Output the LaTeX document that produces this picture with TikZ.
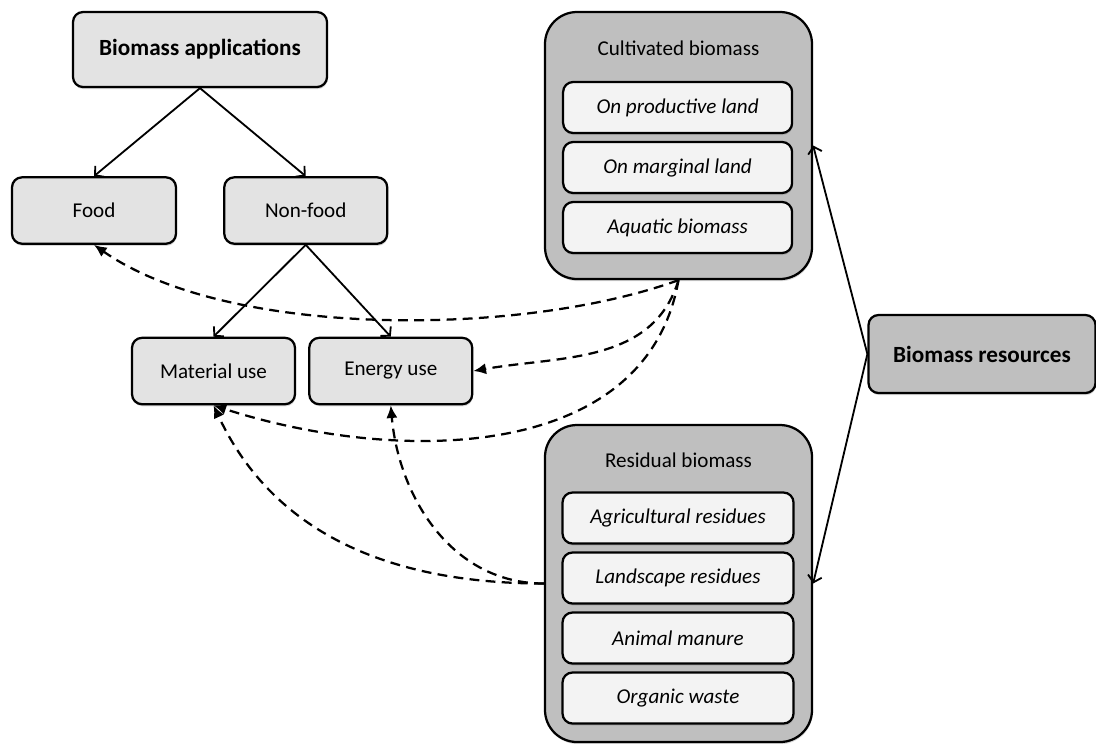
\documentclass[tikz,border=0pt]{standalone}
\usepackage{fontspec}
\setmainfont{Carlito}
\usetikzlibrary{positioning, arrows.meta, shadows}
\definecolor{boxgray}{HTML}{E3E3E3}
\definecolor{darkgray}{HTML}{BFBFBF}
\definecolor{itemgray}{HTML}{F3F3F3}
\tikzset{
    every node/.style={font=\fontsize{15}{18}\selectfont}, % common text size
    box/.style={draw, line width=1.6pt, rounded corners=0.25cm, fill=boxgray, minimum width=4.075cm, minimum height=1.66cm, drop shadow={opacity=0.3, shadow xshift=0.5pt, shadow yshift=-1.5pt}},
    group/.style={draw, line width=1.6pt, rounded corners=0.8cm, fill=darkgray, minimum width=6.675cm, drop shadow={opacity=0.3, shadow xshift=0.5pt, shadow yshift=-1.5pt}},
    item/.style={draw, line width=1.6pt, rounded corners=0.25cm, fill=itemgray, minimum width=5.725cm, minimum height=1.275cm, font=\fontsize{15}{18}\selectfont\itshape, drop shadow={opacity=0.3, shadow xshift=0.5pt, shadow yshift=-1.5pt}},
    link/.style={line width=1.3pt, -{Straight Barb[length=4.5pt, width=10pt]}},
    flow/.style={line width=1.6pt, dash pattern=on 7pt off 4.5pt, -{Latex[length=9pt, width=8pt]}},
    node distance=1.5cm, % spacing of the list items
}
\begin{document}
\begin{tikzpicture}
\useasboundingbox (0,0) rectangle (27.4,-18.575);
% applications side
\node[box, minimum width=6.35cm, minimum height=1.875cm, font=\fontsize{16.5}{19}\selectfont\bfseries] (apps) at (5,-1.2375) {Biomass applications};
\node[box, minimum width=4.1cm] (food) at (2.35,-5.2625) {Food};
\node[box, right=1.15cm of food] (nonfood) {Non-food};
\node[box] (material) at (5.3375,-9.275) {Material use};
\node[box, right=0.3cm of material] (energy) {Energy use};
% resources side
\node[group, minimum height=6.675cm] (cult) at (16.9625,-3.6375) {};
\node (culttitle) at (16.9625,-1.2) {Cultivated biomass};
\node[item] (prod) at (16.94,-2.6875) {On productive land};
\node[item, below of=prod] (marg) {On marginal land};
\node[item, below of=marg] (aqua) {Aquatic biomass};
\node[group, minimum height=7.925cm] (resid) at (16.9625,-14.5875) {};
\node (residtitle) at (16.9625,-11.5) {Residual biomass};
\node[item, minimum width=5.775cm] (agri) at (16.95,-12.95) {Agricultural residues};
\node[item, minimum width=5.775cm, below of=agri] (land) {Landscape residues};
\node[item, minimum width=5.775cm, below of=land] (manure) {Animal manure};
\node[item, minimum width=5.775cm, below of=manure] (waste) {Organic waste};
\node[box, fill=darkgray, minimum width=5.675cm, minimum height=1.95cm, font=\fontsize{16.5}{19}\selectfont\bfseries] (res) at (24.55,-8.85) {Biomass resources};
% solid arrows
\draw[link] (apps.south) -- (food.north);
\draw[link] (apps.south) -- (nonfood.north);
\draw[link] (nonfood.south) -- (material.north);
\draw[link] (nonfood.south) -- (energy.north);
\draw[link] (res.west) -- (cult.east);
\draw[link] (res.west) -- (resid.east);
% dashed arrows
\draw[flow] (cult.south) to[out=200, in=-35, looseness=0.72] (food.south);
\draw[flow] (cult.south) to[out=-107, in=10] (energy.east);
\draw[flow] (cult.south) to[out=-100, in=-18] (material.south);
\draw[flow] (resid.west) to[out=180, in=-65] (material.south);
\draw[flow] (resid.west) to[out=180, in=-85] (energy.south);
\end{tikzpicture}
\end{document}
